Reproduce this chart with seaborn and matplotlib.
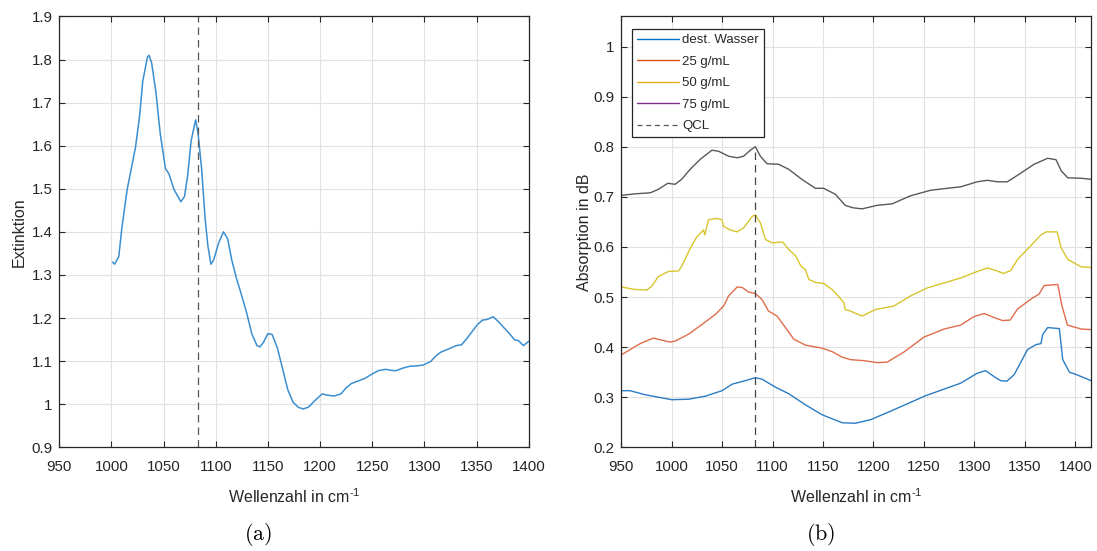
import numpy as np
import pandas as pd
import matplotlib
matplotlib.use("Agg")
import matplotlib.pyplot as plt
from matplotlib.lines import Line2D
import seaborn as sns

# %% data
# (a) extinction spectrum
ext_wn = [1001, 1003, 1007, 1010, 1015, 1019, 1023, 1027, 1030, 1034.5, 1036,
          1038.5, 1042.5, 1046.7, 1051.7, 1055, 1060, 1066.5, 1070, 1073, 1076.4,
          1080.7, 1083, 1086.4, 1089.7, 1092.4, 1095.3, 1098, 1103, 1107.4, 1111.4,
          1115.3, 1119.6, 1124.6, 1129.5, 1134.5, 1139.5, 1142.5, 1145.8, 1150,
          1154, 1159, 1164, 1169, 1174, 1179, 1183.7, 1188.7, 1195.3, 1202, 1207,
          1213.5, 1220, 1225, 1230, 1236.6, 1243, 1249.8, 1256, 1263, 1269.6, 1273,
          1279.5, 1286, 1292.7, 1299, 1306, 1310.6, 1315.8, 1322, 1330.6, 1335.6,
          1340.6, 1345.6, 1350.6, 1355.6, 1360.5, 1366, 1370.4, 1375.4, 1380,
          1386.8, 1390, 1395, 1400]
ext_val = [1.330, 1.325, 1.343, 1.41, 1.498, 1.547, 1.596, 1.67, 1.75, 1.806, 1.81,
           1.792, 1.726, 1.629, 1.547, 1.535, 1.498, 1.47, 1.482, 1.53, 1.612,
           1.66, 1.629, 1.547, 1.433, 1.368, 1.325, 1.335, 1.376, 1.40, 1.384,
           1.335, 1.294, 1.254, 1.213, 1.164, 1.136, 1.133, 1.144, 1.164,
           1.162, 1.131, 1.083, 1.034, 1.005, 0.993, 0.989, 0.993, 1.009, 1.024, 1.021,
           1.019, 1.024, 1.038, 1.048, 1.054, 1.06, 1.07, 1.078, 1.081, 1.078, 1.078,
           1.084, 1.088, 1.089, 1.091, 1.099, 1.111, 1.121, 1.127, 1.136, 1.138,
           1.152, 1.168, 1.184, 1.195, 1.197, 1.203, 1.193, 1.18, 1.168,
           1.149, 1.148, 1.136, 1.146]

# (b) absorption spectra
water_wn = [950.7, 959, 973.8, 1000.3, 1017, 1033.4, 1050, 1060, 1073, 1083, 1089.6,
            1103, 1116, 1132.5, 1149, 1169, 1182, 1197, 1216.8, 1251.6, 1286.3,
            1302.8, 1311, 1319.5, 1326, 1332, 1339.3, 1352.5, 1360.8, 1365.8,
            1367.5, 1372.5, 1384, 1387.4, 1394, 1402.3, 1415.5]
water_val = [0.313, 0.313, 0.305, 0.295, 0.296, 0.302, 0.313, 0.326, 0.333, 0.339, 0.336,
             0.320, 0.307, 0.285, 0.265, 0.249, 0.248, 0.255, 0.272, 0.303, 0.328,
             0.348, 0.353, 0.341, 0.333, 0.332, 0.345, 0.395, 0.405, 0.407,
             0.425, 0.439, 0.437, 0.375, 0.350, 0.344, 0.333]

c25_wn = [950.7, 959, 969, 982, 998.6, 1003.6, 1017, 1030, 1043.3, 1051.6, 1056.5,
          1065, 1070, 1076.3, 1083, 1089.6, 1096, 1104.5, 1112.8, 1121, 1132.5,
          1149, 1159, 1169, 1177, 1190.4, 1203.6, 1213.5, 1230, 1250, 1269.8,
          1286.3, 1299.5, 1309.5, 1319.5, 1327.7, 1335.4, 1342.6, 1356, 1364,
          1369, 1382.5, 1386.5, 1392, 1405.8, 1415.5]
c25_val = [0.385, 0.395, 0.407, 0.418, 0.410, 0.412, 0.426, 0.445, 0.465, 0.482, 0.502,
           0.520, 0.519, 0.510, 0.507, 0.495, 0.472, 0.462, 0.439, 0.416, 0.404,
           0.398, 0.391, 0.380, 0.375, 0.373, 0.369, 0.370, 0.390, 0.420, 0.436,
           0.444, 0.461, 0.467, 0.459, 0.453, 0.454, 0.476, 0.496, 0.506,
           0.523, 0.525, 0.483, 0.444, 0.436, 0.435]

c50_wn = [950.7, 964, 975.6, 980.6, 987, 997, 1007, 1010, 1018.5, 1025, 1031.7,
          1033, 1036.6, 1045, 1050, 1051.6, 1058, 1065, 1071.4, 1080, 1083, 1088,
          1093, 1099.6, 1110, 1116, 1123, 1128, 1132.5, 1136, 1142.5, 1150.7,
          1159, 1165, 1170.6, 1172, 1177, 1188.7, 1202, 1220, 1236.6, 1253, 1273,
          1286.3, 1302.8, 1312.7, 1321, 1328.7, 1336, 1342.6, 1356, 1365.8,
          1370.8, 1381.8, 1385.8, 1392.4, 1405.8, 1415.5]
c50_val = [0.520, 0.515, 0.514, 0.522, 0.541, 0.551, 0.552, 0.561, 0.597, 0.620, 0.634,
           0.624, 0.654, 0.657, 0.654, 0.641, 0.634, 0.630, 0.638, 0.661, 0.664, 0.648,
           0.615, 0.608, 0.610, 0.595, 0.582, 0.562, 0.555, 0.535, 0.529, 0.527,
           0.515, 0.502, 0.489, 0.475, 0.472, 0.462, 0.475, 0.482, 0.502, 0.518, 0.530,
           0.538, 0.551, 0.558, 0.553, 0.547, 0.553, 0.575, 0.603, 0.624,
           0.630, 0.630, 0.598, 0.575, 0.560, 0.559]

c75_wn = [950.7, 964, 979, 987, 996.3, 1003.6, 1010, 1018.5, 1028.5, 1040, 1046.6,
          1056.5, 1065, 1071.4, 1078, 1083, 1088, 1094.6, 1106, 1116, 1129,
          1142.5, 1150.7, 1162.3, 1172, 1180, 1188.7, 1203.6, 1218.5, 1236.6,
          1256.4, 1273, 1286.3, 1302.8, 1312.7, 1322.6, 1332.5, 1342.6, 1359,
          1372.5, 1380.8, 1385.8, 1392.4, 1405.8, 1415.5]
c75_val = [0.703, 0.706, 0.708, 0.715, 0.727, 0.725, 0.735, 0.755, 0.775, 0.793, 0.791,
           0.781, 0.778, 0.781, 0.793, 0.800, 0.781, 0.766, 0.765, 0.755, 0.735,
           0.717, 0.717, 0.705, 0.683, 0.678, 0.676, 0.683, 0.686, 0.702,
           0.713, 0.717, 0.720, 0.730, 0.733, 0.730, 0.730, 0.743, 0.765,
           0.777, 0.774, 0.752, 0.738, 0.737, 0.735]

qcl_wn = 1083
labels = ["dest. Wasser", "25 g/mL", "50 g/mL", "75 g/mL", "QCL"]
line_colors = ["#2a7cc4", "#df6d4c", "#d8c52c", "#58585f"]
legend_colors = ["#0072bd", "#d95319", "#edb120", "#7e2f8e"]

# %% style
sns.set_style("ticks")
plt.rcParams["font.family"] = ["Liberation Sans", "DejaVu Sans"]
plt.rcParams["mathtext.fontset"] = "custom"
plt.rcParams["mathtext.rm"] = "Liberation Sans"
plt.rcParams["mathtext.it"] = "Liberation Sans"
text_col = "#262626"
grid_col = "#e2e2e2"
xlabel = r"Wellenzahl in cm$^{\text{-}1}$"

fig = plt.figure(figsize=(10.97, 5.51), dpi=100)
ax1 = fig.add_axes([0.0541, 0.1882, 0.4278, 0.7819])
ax2 = fig.add_axes([0.5661, 0.1882, 0.4281, 0.7819])


def matlab_axes(ax):
    ax.grid(True, color=grid_col, lw=0.8)
    ax.set_axisbelow(True)
    for sp in ax.spines.values():
        sp.set_color(text_col)
        sp.set_linewidth(0.9)
        sp.set_visible(True)
    ax.tick_params(direction="in", length=4, width=0.8, colors=text_col,
                   labelsize=10.8, top=True, right=True)
    ax.tick_params(axis="x", pad=9)
    ax.tick_params(axis="y", pad=5)


# %% (a)
sns.lineplot(x=ext_wn, y=ext_val, ax=ax1, color="#3b8fd0", lw=1.1)
ax1.axvline(qcl_wn, color="#555555", lw=0.9, ls=(0, (6, 4)))
ax1.set_xlim(950, 1400)
ax1.set_ylim(0.9, 1.9)
ax1.set_xticks(np.arange(950, 1401, 50))
ax1.set_yticks(np.arange(0.9, 1.91, 0.1))
ax1.set_yticklabels(["0.9", "1", "1.1", "1.2", "1.3", "1.4", "1.5", "1.6", "1.7", "1.8", "1.9"])
ax1.set_xlabel(xlabel, fontsize=11.5, color=text_col, labelpad=10)
ax1.set_ylabel("Extinktion", fontsize=11.5, color=text_col, labelpad=3)
matlab_axes(ax1)

# %% (b)
series = [(water_wn, water_val), (c25_wn, c25_val), (c50_wn, c50_val), (c75_wn, c75_val)]
for (wn, val), col in zip(series, line_colors):
    sns.lineplot(x=wn, y=val, ax=ax2, color=col, lw=1.0)
ax2.vlines(qcl_wn, 0.2, max(c75_val), color="#444444", lw=0.9, ls=(0, (6, 4)))
ax2.set_xlim(950, 1415)
ax2.set_ylim(0.2, 1.06)
ax2.set_xticks(np.arange(950, 1401, 50))
ax2.set_yticks(np.arange(0.2, 1.01, 0.1))
ax2.set_yticklabels(["0.2", "0.3", "0.4", "0.5", "0.6", "0.7", "0.8", "0.9", "1"])
ax2.set_xlabel(xlabel, fontsize=11.5, color=text_col, labelpad=10)
ax2.set_ylabel("Absorption in dB", fontsize=11.5, color=text_col, labelpad=1)
matlab_axes(ax2)

handles = [Line2D([], [], color=c, lw=1.0) for c in legend_colors]
handles.append(Line2D([], [], color="#555555", lw=0.9, ls=(0, (4, 3))))
leg = ax2.legend(handles, labels, loc="upper left", bbox_to_anchor=(0.024, 0.97),
                 fontsize=9.5, frameon=True, fancybox=False, framealpha=1,
                 edgecolor=text_col, handlelength=3.2, handletextpad=0.25,
                 labelspacing=0.7, borderpad=0.35, borderaxespad=0.0)
leg.get_frame().set_linewidth(0.9)
for t in leg.get_texts():
    t.set_color(text_col)

# %% sub captions
fig.text(0.235, 0.03, r"$\mathrm{(a)}$", fontsize=16, ha="center", va="center",
         math_fontfamily="cm", color="black")
fig.text(0.748, 0.03, r"$\mathrm{(b)}$", fontsize=16, ha="center", va="center",
         math_fontfamily="cm", color="black")

fig.savefig("out.png", dpi=100)
